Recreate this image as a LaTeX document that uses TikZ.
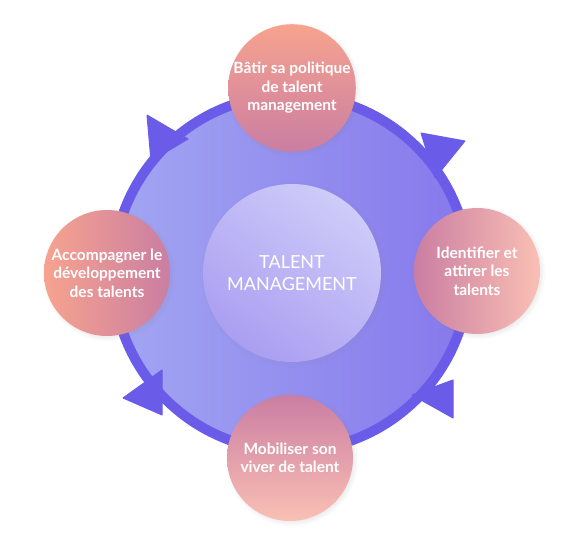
\documentclass[tikz,border=0pt]{standalone}
\usepackage{fontspec}
\setmainfont{Lato}
\usetikzlibrary{shadows}

\definecolor{ringblue}{RGB}{106,92,232}
\definecolor{lavleft}{RGB}{162,166,242}
\definecolor{lavright}{RGB}{134,120,236}
\definecolor{hubtop}{RGB}{206,204,249}
\definecolor{hubbot}{RGB}{170,158,241}
\definecolor{salmon}{RGB}{247,163,143}
\definecolor{mauve}{RGB}{202,126,162}
\definecolor{peach}{RGB}{250,192,180}

\tikzset{
  stage/.style={circle, inner sep=0pt, minimum size=126pt, align=center, text=white,
    font=\bfseries\fontsize{15.5}{18.5}\selectfont,
    circular drop shadow={opacity=0.22, shadow scale=1.06}},
  ringarrow/.style={fill=ringblue, draw=ringblue, line join=round, line width=1pt}
}

\begin{document}
\begin{tikzpicture}[x=1pt,y=1pt,yscale=-1,xscale=1]
\path[use as bounding box] (0,0) rectangle (579,534);

%Shape: Circle [ring]
\node [circle, inner sep=0pt, minimum size=356pt, draw=ringblue, line width=10pt,
  left color=lavleft, right color=lavright,
  circular drop shadow={opacity=0.18, shadow scale=1.03}] (ring) at (291,273) {};

%Shape: Triangles on the ring
\filldraw [ringarrow] (147,115) -- (188,139) -- (151,161) -- cycle ;
\filldraw [ringarrow] (421,133) -- (465,141) -- (435,178) -- cycle ;
\filldraw [ringarrow] (412,395) -- (453,380) -- (453,418) -- cycle ;
\filldraw [ringarrow] (162,370) -- (123,398) -- (162,415) -- cycle ;

%Shape: Circle [hub]
\node [circle, inner sep=0pt, minimum size=178pt, align=center, text=white,
  top color=hubtop, bottom color=hubbot, shading angle=-35,
  circular drop shadow={opacity=0.2, shadow scale=1.05},
  font=\fontsize{18}{22}\selectfont] (hub) at (292,273) {TALENT\\MANAGEMENT};

% Text Node
\node [stage, top color=salmon, bottom color=mauve] (batir) at (292,88)
  {Bâtir sa politique\\de talent\\management};
% Text Node
\node [stage, left color=mauve, right color=peach] (identifier) at (477,271)
  {Identifier et\\attirer les\\talents};
% Text Node
\node [stage, top color=mauve, bottom color=peach] (mobiliser) at (290,458)
  {Mobiliser son\\viver de talent};
% Text Node
\node [stage, left color=salmon, right color=mauve] (accompagner) at (107,273)
  {Accompagner le\\développement\\des talents};

\end{tikzpicture}
\end{document}
